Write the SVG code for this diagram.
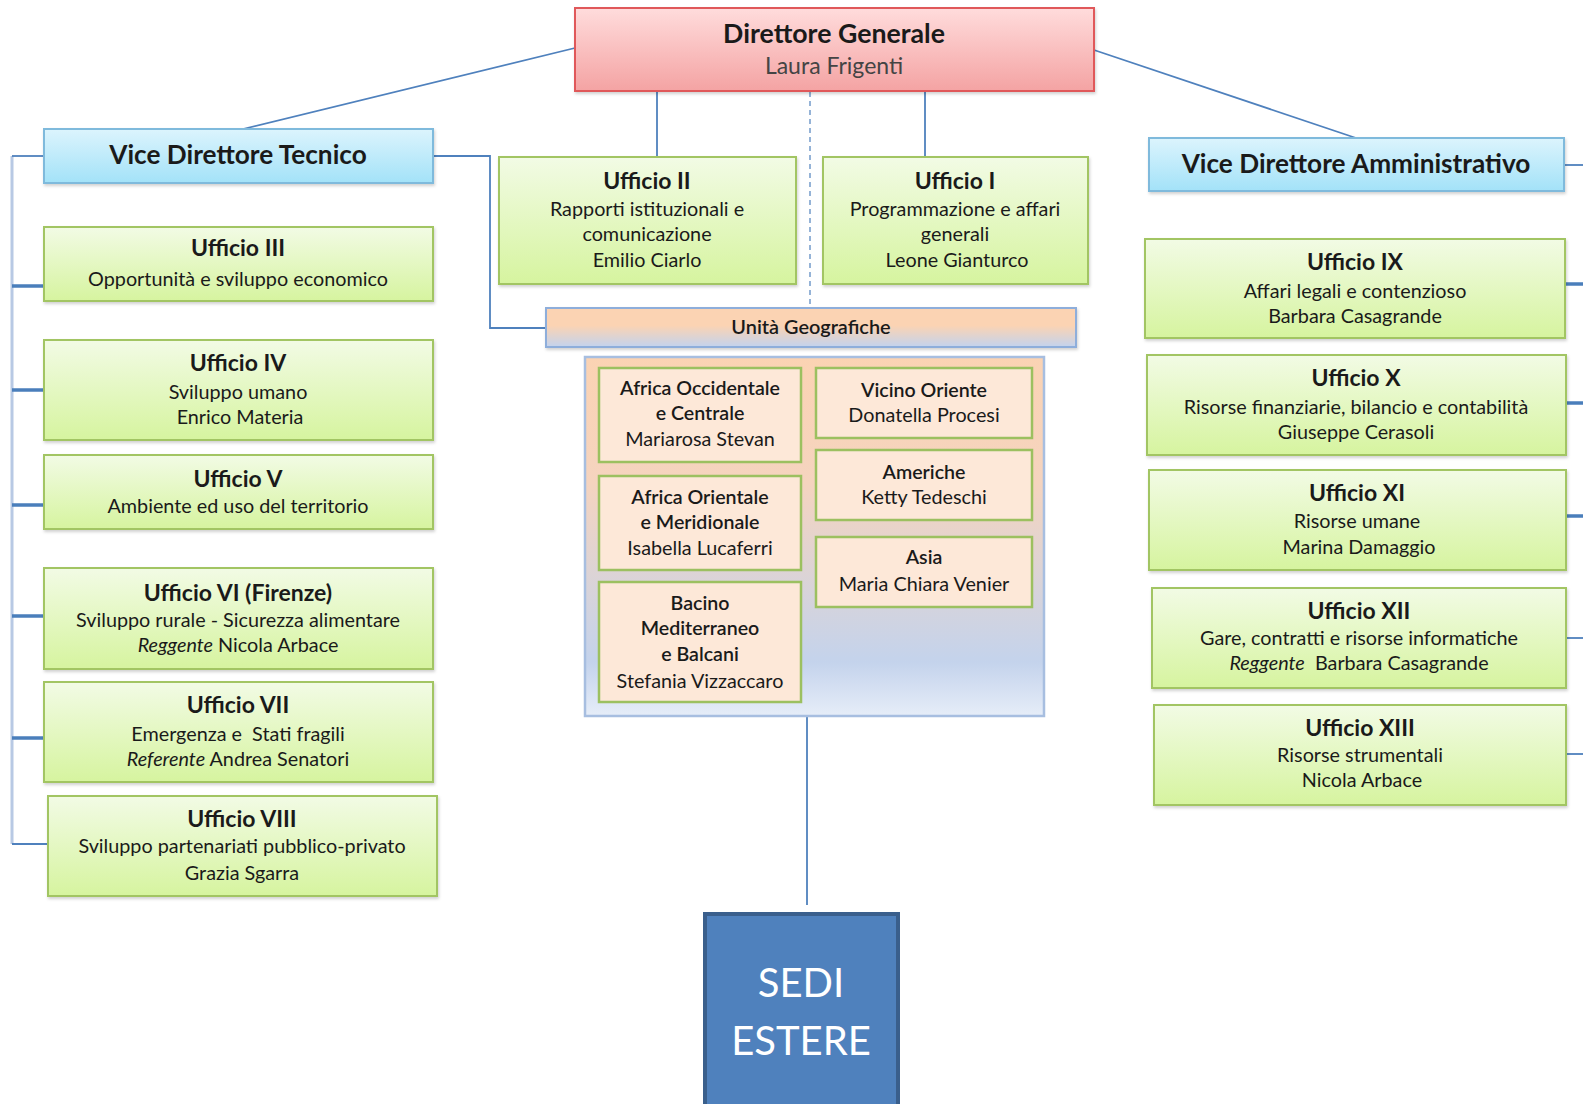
<svg xmlns="http://www.w3.org/2000/svg" width="1583" height="1104" viewBox="0 0 1583 1104">
<defs>
<linearGradient id="gRed" x1="0" y1="0" x2="0" y2="1"><stop offset="0" stop-color="#ffdcdc"/><stop offset="1" stop-color="#f4a3a3"/></linearGradient>
<linearGradient id="gBlue" x1="0" y1="0" x2="0" y2="1"><stop offset="0" stop-color="#dcf4fd"/><stop offset="1" stop-color="#a3e2f8"/></linearGradient>
<linearGradient id="gGreen" x1="0" y1="0" x2="0" y2="1"><stop offset="0" stop-color="#f2fbe5"/><stop offset="1" stop-color="#d6f49f"/></linearGradient>
<linearGradient id="gUnit" x1="0" y1="0" x2="0" y2="1"><stop offset="0" stop-color="#fbd3b3"/><stop offset="0.45" stop-color="#fbd3b3"/><stop offset="1" stop-color="#c3d3ee"/></linearGradient>
<linearGradient id="gCont" x1="0" y1="0" x2="0" y2="1"><stop offset="0" stop-color="#fbd3b3"/><stop offset="0.35" stop-color="#f5d4bf"/><stop offset="0.85" stop-color="#c4d3ec"/><stop offset="1" stop-color="#e6edf8"/></linearGradient>
<filter id="sh" x="-5%" y="-5%" width="110%" height="120%"><feDropShadow dx="1" dy="2" stdDeviation="1.5" flood-color="#000" flood-opacity="0.18"/></filter>
</defs>
<style>
text{font-family:Lato,"Noto Sans","Liberation Sans",sans-serif;fill:#1a1a1a;text-anchor:middle}
.t{font-size:23px;font-weight:bold}
.h{font-size:26.2px;font-weight:bold}
.b{font-size:19.8px}
.i{font-style:italic}
.g{font-size:19.6px;font-weight:600}
.green{fill:url(#gGreen);stroke:#a2c563;stroke-width:2;filter:url(#sh)}
.blue{fill:url(#gBlue);stroke:#7fbadc;stroke-width:2;filter:url(#sh)}
.geo{fill:#fde8d8;stroke:#9cc060;stroke-width:2.5}
.c{fill:none;stroke:#4f81bd;stroke-width:1.8}
.ck{fill:none;stroke:#4a7ebb;stroke-width:3.5}
</style>
<g id="connectors">
<line class="c" x1="575" y1="48" x2="243" y2="129"/>
<line class="c" x1="1094" y1="50" x2="1356" y2="138"/>
<line class="c" x1="657" y1="91" x2="657" y2="157"/>
<line class="c" x1="925" y1="91" x2="925" y2="157"/>
<line x1="810" y1="92" x2="810" y2="307" stroke="#95b3d7" stroke-width="2" stroke-dasharray="5,4"/>
<polyline class="c" stroke="#7fa3d0" points="433,156 490,156 490,328 546,328"/>
<line x1="12" y1="156" x2="12" y2="844" stroke="#b8c9e4" stroke-width="3"/>
<line class="c" stroke="#8fb0da" x1="12" y1="156" x2="44" y2="156"/>
<line class="ck" x1="12" y1="286" x2="44" y2="286"/>
<line class="ck" x1="12" y1="390" x2="44" y2="390"/>
<line class="ck" x1="12" y1="505" x2="44" y2="505"/>
<line class="ck" x1="12" y1="616" x2="44" y2="616"/>
<line class="ck" x1="12" y1="738" x2="44" y2="738"/>
<line class="c" stroke="#8fb0da" x1="12" y1="844" x2="48" y2="844"/>
<line class="c" stroke="#7fa3d0" x1="1564" y1="165" x2="1583" y2="165"/>
<line class="ck" x1="1565" y1="284" x2="1583" y2="284"/>
<line class="ck" stroke-width="3" x1="1566" y1="403" x2="1583" y2="403"/>
<line class="ck" stroke-width="3" x1="1566" y1="516" x2="1583" y2="516"/>
<line class="c" x1="1566" y1="638" x2="1583" y2="638"/>
<line class="c" stroke="#8fb0da" x1="1566" y1="754" x2="1583" y2="754"/>
<line class="c" x1="807" y1="716" x2="807" y2="905"/>
</g>
<g id="dg">
<rect x="575" y="8" width="519" height="83" fill="url(#gRed)" stroke="#e0595a" stroke-width="2" filter="url(#sh)"/>
<text x="834" y="43" font-size="26.7" font-weight="bold">Direttore Generale</text>
<text x="834" y="74" font-size="23" style="fill:#444">Laura Frigenti</text>
</g>
<g id="vdt">
<rect class="blue" x="44" y="129" width="389" height="54"/>
<text class="h" x="238" y="164">Vice Direttore Tecnico</text>
</g>
<g id="vda">
<rect class="blue" x="1149" y="138" width="415" height="53"/>
<text class="h" x="1356" y="173" font-size="26.4">Vice Direttore Amministrativo</text>
</g>
<g id="uff2">
<rect class="green" x="499" y="157" width="297" height="127"/>
<text class="t" x="647" y="189">Ufficio II</text>
<text class="b" x="647" y="216">Rapporti istituzionali e</text>
<text class="b" x="647" y="241">comunicazione</text>
<text class="b" x="647" y="267">Emilio Ciarlo</text>
</g>
<g id="uff1">
<rect class="green" x="823" y="157" width="265" height="127"/>
<text class="t" x="955" y="189">Ufficio I</text>
<text class="b" x="955" y="216">Programmazione e affari</text>
<text class="b" x="955" y="241">generali</text>
<text class="b" x="957" y="267">Leone Gianturco</text>
</g>
<g id="uff3">
<rect class="green" x="44" y="227" width="389" height="74"/>
<text class="t" x="238" y="256">Ufficio III</text>
<text class="b" x="238" y="286">Opportunità e sviluppo economico</text>
</g>
<g id="uff4">
<rect class="green" x="44" y="340" width="389" height="100"/>
<text class="t" x="238" y="371">Ufficio IV</text>
<text class="b" x="238" y="399">Sviluppo umano</text>
<text class="b" x="240" y="424">Enrico Materia</text>
</g>
<g id="uff5">
<rect class="green" x="44" y="455" width="389" height="74"/>
<text class="t" x="238" y="487">Ufficio V</text>
<text class="b" x="238" y="513">Ambiente ed uso del territorio</text>
</g>
<g id="uff6">
<rect class="green" x="44" y="568" width="389" height="101"/>
<text class="t" x="238" y="601">Ufficio VI (Firenze)</text>
<text class="b" x="238" y="627">Sviluppo rurale - Sicurezza alimentare</text>
<text class="b" x="238" y="652"><tspan class="i">Reggente</tspan> Nicola Arbace</text>
</g>
<g id="uff7">
<rect class="green" x="44" y="682" width="389" height="100"/>
<text class="t" x="238" y="713">Ufficio VII</text>
<text class="b" x="238" y="741" xml:space="preserve">Emergenza e  Stati fragili</text>
<text class="b" x="238" y="766"><tspan class="i">Referente</tspan> Andrea Senatori</text>
</g>
<g id="uff8">
<rect class="green" x="48" y="796" width="389" height="100"/>
<text class="t" x="242" y="827">Ufficio VIII</text>
<text class="b" x="242" y="853">Sviluppo partenariati pubblico-privato</text>
<text class="b" x="242" y="880">Grazia Sgarra</text>
</g>
<g id="uff9">
<rect class="green" x="1145" y="239" width="420" height="99"/>
<text class="t" x="1355" y="270">Ufficio IX</text>
<text class="b" x="1355" y="298">Affari legali e contenzioso</text>
<text class="b" x="1355" y="323">Barbara Casagrande</text>
</g>
<g id="uff10">
<rect class="green" x="1147" y="355" width="419" height="100"/>
<text class="t" x="1356" y="386">Ufficio X</text>
<text class="b" x="1356" y="414">Risorse finanziarie, bilancio e contabilità</text>
<text class="b" x="1356" y="439">Giuseppe Cerasoli</text>
</g>
<g id="uff11">
<rect class="green" x="1149" y="470" width="417" height="100"/>
<text class="t" x="1357" y="501">Ufficio XI</text>
<text class="b" x="1357" y="528">Risorse umane</text>
<text class="b" x="1359" y="554">Marina Damaggio</text>
</g>
<g id="uff12">
<rect class="green" x="1152" y="588" width="414" height="100"/>
<text class="t" x="1359" y="619">Ufficio XII</text>
<text class="b" x="1359" y="645">Gare, contratti e risorse informatiche</text>
<text class="b" x="1359" y="670" xml:space="preserve"><tspan class="i">Reggente</tspan>  Barbara Casagrande</text>
</g>
<g id="uff13">
<rect class="green" x="1154" y="705" width="412" height="100"/>
<text class="t" x="1360" y="736">Ufficio XIII</text>
<text class="b" x="1360" y="762">Risorse strumentali</text>
<text class="b" x="1362" y="787">Nicola Arbace</text>
</g>
<g id="unita">
<rect x="546" y="308" width="530" height="39" fill="url(#gUnit)" stroke="#8eaedb" stroke-width="2" filter="url(#sh)"/>
<text x="811" y="334" font-size="19.9" font-weight="600">Unità Geografiche</text>
</g>
<g id="geo-container">
<rect x="585" y="357" width="459" height="359" fill="url(#gCont)" stroke="#a7bee0" stroke-width="2.5"/>
</g>
<g id="africa-occ">
<rect class="geo" x="599" y="368" width="202" height="94"/>
<text class="g" x="700" y="395">Africa Occidentale</text>
<text class="g" x="700" y="420">e Centrale</text>
<text class="b" x="700" y="446">Mariarosa Stevan</text>
</g>
<g id="africa-or">
<rect class="geo" x="599" y="476" width="202" height="94"/>
<text class="g" x="700" y="504">Africa Orientale</text>
<text class="g" x="700" y="529">e Meridionale</text>
<text class="b" x="700" y="555">Isabella Lucaferri</text>
</g>
<g id="bacino">
<rect class="geo" x="599" y="582" width="202" height="120"/>
<text class="g" x="700" y="610">Bacino</text>
<text class="g" x="700" y="635">Mediterraneo</text>
<text class="g" x="700" y="661">e Balcani</text>
<text class="b" x="700" y="688">Stefania Vizzaccaro</text>
</g>
<g id="vicino">
<rect class="geo" x="816" y="368" width="216" height="70"/>
<text class="g" x="924" y="397">Vicino Oriente</text>
<text class="b" x="924" y="422">Donatella Procesi</text>
</g>
<g id="americhe">
<rect class="geo" x="816" y="450" width="216" height="70"/>
<text class="g" x="924" y="479">Americhe</text>
<text class="b" x="924" y="504">Ketty Tedeschi</text>
</g>
<g id="asia">
<rect class="geo" x="816" y="537" width="216" height="70"/>
<text class="g" x="924" y="564">Asia</text>
<text class="b" x="924" y="591">Maria Chiara Venier</text>
</g>
<g id="sedi">
<rect x="705" y="914" width="193" height="200" fill="#4f81bd" stroke="#3a5f8c" stroke-width="4"/>
<text x="801" y="997" font-size="40" style="fill:#ffffff">SEDI</text>
<text x="801" y="1055" font-size="40" style="fill:#ffffff">ESTERE</text>
</g>
</svg>
